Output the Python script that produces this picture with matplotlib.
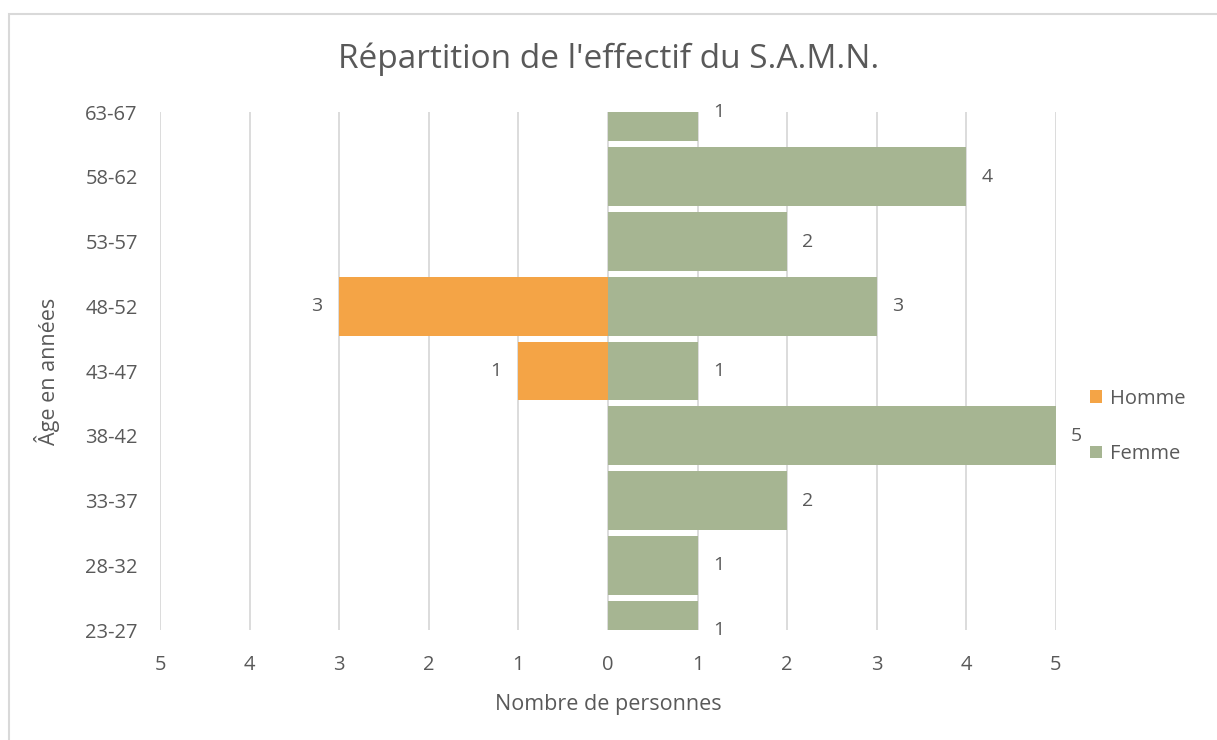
import matplotlib.pyplot as plt
from matplotlib.patches import Rectangle
import numpy as np

plt.rcParams['font.family'] = ['Open Sans', 'DejaVu Sans']

ages = ['23-27', '28-32', '33-37', '38-42', '43-47', '48-52', '53-57', '58-62', '63-67']
homme = [0, 0, 0, 0, 1, 3, 0, 0, 0]
femme = [1, 1, 2, 5, 1, 3, 2, 4, 1]
xticks = [-5, -4, -3, -2, -1, 0, 1, 2, 3, 4, 5]

txt = '#595959'
grid = '#D9D9D9'
c_homme = '#F4A446'
c_femme = '#A6B592'

fig = plt.figure(figsize=(12.17, 7.40), dpi=100)
ax = fig.add_axes([0.1315, 0.1486, 0.7362, 0.7000])

y = np.arange(len(ages))
ax.barh(y, [-v for v in homme], height=0.91, color=c_homme, label='Homme', zorder=2)
ax.barh(y, femme, height=0.91, color=c_femme, label='Femme', zorder=2)

# data labels
for yi, v in zip(y, femme):
    ax.text(v + 0.17, yi, str(v), ha='left', va='center', fontsize=14, color=txt)
for yi, v in zip(y, homme):
    if v:
        ax.text(-v - 0.19, yi, str(v), ha='right', va='center', fontsize=14, color=txt)

ax.set_xlim(-5, 5)
ax.set_ylim(0, len(ages) - 1)
ax.set_xticks(xticks)
ax.set_xticklabels([str(abs(t)) for t in xticks])
ax.set_yticks(y)
ax.set_yticklabels(ages)
ax.tick_params(length=0, labelsize=14.5, labelcolor=txt)
ax.tick_params(axis='y', pad=16)
ax.tick_params(axis='x', pad=18)
ax.grid(axis='x', color=grid, linewidth=1.3, zorder=0)
ax.set_axisbelow(True)
for s in ax.spines.values():
    s.set_visible(False)

ax.set_xlabel('Nombre de personnes', fontsize=15.5, color=txt, labelpad=14)
ax.set_ylabel('Âge en années', fontsize=15.5, color=txt, labelpad=18)
fig.suptitle("Répartition de l'effectif du S.A.M.N.", fontsize=24, color=txt, y=0.943)

ax.legend(loc='center left', bbox_to_anchor=(1.018, 0.393), frameon=False,
          fontsize=14.5, labelcolor=txt, handlelength=0.6, handleheight=0.6,
          handletextpad=0.4, labelspacing=1.75)

fig.patches.append(Rectangle((9 / 1217, -0.1), 1.2, 1 - 14 / 740 + 0.1,
                             transform=fig.transFigure, fill=False,
                             edgecolor=grid, linewidth=1.5))

fig.savefig('out.png', dpi=100)
